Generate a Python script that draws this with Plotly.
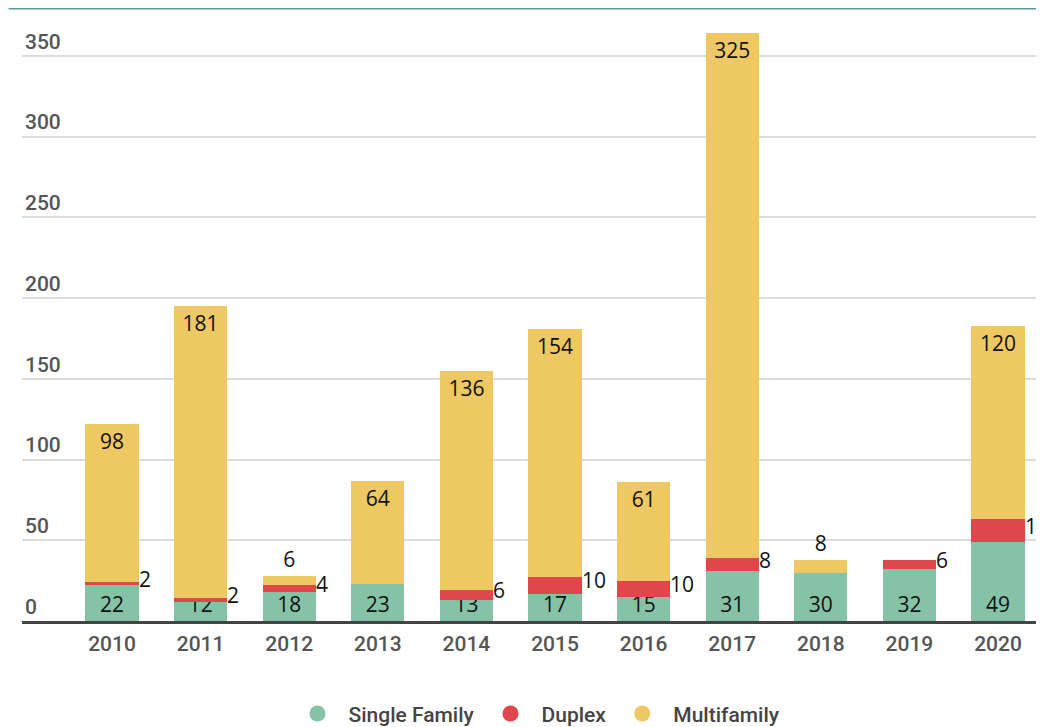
import plotly.graph_objects as go

years = ["2010", "2011", "2012", "2013", "2014", "2015", "2016", "2017", "2018", "2019", "2020"]
single_family = [22, 12, 18, 23, 13, 17, 15, 31, 30, 32, 49]
duplex = [2, 2, 4, 0, 6, 10, 10, 8, 0, 6, 14]
multifamily = [98, 181, 6, 64, 136, 154, 61, 325, 8, 0, 120]
y_ticks = [0, 50, 100, 150, 200, 250, 300, 350]

C_SINGLE = "#86C3A6"
C_DUPLEX = "#E0474C"
C_MULTI = "#EEC862"

LABEL_FONT = dict(family="Open Sans", size=21, color="#111111")
TICK_FONT = dict(family="Roboto", size=21, color="#555555", weight=500)

xs = list(range(len(years)))
BAR_W = 0.6

def lbl(vals):
    return [str(v) if v else "" for v in vals]

fig = go.Figure()
fig.add_trace(go.Bar(
    x=xs, y=single_family, width=BAR_W, marker=dict(color=C_SINGLE, line=dict(width=0)),
    text=lbl(single_family), textposition="inside", insidetextanchor="start", textangle=0,
    constraintext="none", insidetextfont=LABEL_FONT, showlegend=False, hoverinfo="skip",
))
fig.add_trace(go.Bar(
    x=xs, y=duplex, width=BAR_W, marker=dict(color=C_DUPLEX, line=dict(width=0)),
    showlegend=False, hoverinfo="skip",
))
fig.add_trace(go.Bar(
    x=xs, y=multifamily, width=BAR_W, marker=dict(color=C_MULTI, line=dict(width=0)),
    text=lbl(multifamily), textposition="auto", insidetextanchor="end", textangle=0,
    constraintext="none", insidetextfont=LABEL_FONT, outsidetextfont=LABEL_FONT,
    showlegend=False, hoverinfo="skip",
))

# legend entries with round markers
for name, col in [("Single Family", C_SINGLE), ("Duplex", C_DUPLEX), ("Multifamily", C_MULTI)]:
    fig.add_trace(go.Scatter(x=[None], y=[None], mode="markers", name=name,
                             marker=dict(symbol="circle", size=26, color=col)))

# duplex labels to the right of the bars
for i, (s, d) in enumerate(zip(single_family, duplex)):
    if d:
        fig.add_annotation(x=i + BAR_W / 2, y=s + d / 2, text=str(d), showarrow=False,
                           xanchor="left", yanchor="middle", xshift=-2, yshift=5,
                           font=LABEL_FONT)

fig.add_shape(type="line", xref="paper", yref="paper", x0=-0.013, x1=1.02,
              y0=1.0025, y1=1.0025, line=dict(color="#5B97A3", width=2))

fig.update_layout(
    width=1044, height=727,
    margin=dict(l=14, r=0, t=2, b=114),
    barmode="stack", bargap=0.4,
    paper_bgcolor="#FFFFFF", plot_bgcolor="#FFFFFF",
    font=dict(family="Roboto", color="#444444"),
    xaxis=dict(range=[-1.016, 10.609], tickvals=xs, ticktext=years, showgrid=False,
               zeroline=False, showline=True, linecolor="#444444", linewidth=3,
               ticks="outside", ticklen=2, tickcolor="rgba(0,0,0,0)", tickfont=TICK_FONT,
               fixedrange=True),
    yaxis=dict(range=[0, 378.5], tickvals=y_ticks, ticktext=[str(v) for v in y_ticks],
               showgrid=True, gridcolor="#DCDCDC", gridwidth=1.5, zeroline=False,
               ticklabelposition="inside top", tickfont=TICK_FONT, fixedrange=True),
    legend=dict(orientation="h", x=0.499, xanchor="center", y=-0.152, yanchor="middle",
                traceorder="normal", itemwidth=52,
                font=dict(family="Roboto", size=21, color="#444444", weight=500),
                itemsizing="trace", bgcolor="rgba(0,0,0,0)"),
    showlegend=True,
)

fig.write_html("out.html")
